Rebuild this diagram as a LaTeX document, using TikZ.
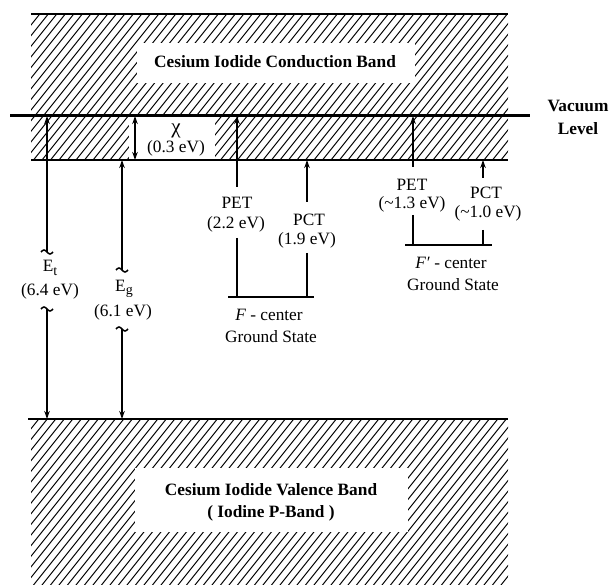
\documentclass[tikz,border=0pt]{standalone}
\usepackage{fontspec}
\setmainfont{Liberation Serif}
\usetikzlibrary{arrows.meta}
\newcommand{\bigsub}[1]{\raisebox{-3.5pt}{\fontsize{14}{14}\selectfont #1}}
\begin{document}
\begin{tikzpicture}[x=1pt,y=-1pt,
  lbl/.style={font=\fontsize{17.3}{19}\selectfont, inner sep=0pt},
  blbl/.style={font=\fontsize{17.3}{19}\selectfont\bfseries, inner sep=0pt},
  arr/.style={line width=1.2pt, -{Stealth[length=8pt,width=5.5pt]}},
  darr/.style={line width=1.2pt, {Stealth[length=8pt,width=5.5pt]}-{Stealth[length=8pt,width=5.5pt]}},
  plainline/.style={line width=1.2pt},
  levelline/.style={line width=2.6pt},
  hatchline/.style={line width=1pt},
  tilde/.pic={\draw[line width=1.5pt] (-6,0) sin (-3,-2) cos (0,0) sin (3,2) cos (6,0);}]
\useasboundingbox (0,0) rectangle (611,585);
% hatching of the two bands
\begin{scope}
  \clip (31,14) rectangle (508,160) (31,419) rectangle (508,585);
  \foreach \x in {-480,-471.5,...,520} \draw[hatchline] (\x,600) -- ++(480,-600);
\end{scope}
% white label boxes
\fill[white] (137,43) rectangle (415,83);
\fill[white] (129,117) rectangle (215,159);
\fill[white] (135,468) rectangle (408,532);
% band edges and levels
\coordinate (ctl) at (31,14);  \coordinate (ctr) at (508,14);
\coordinate (vl) at (10,116);  \coordinate (vr) at (530,116);
\coordinate (cbl) at (31,160); \coordinate (cbr) at (508,160);
\coordinate (vbl) at (28,419); \coordinate (vbr) at (508,419);
\draw[line width=1.3pt] (ctl) -- (ctr);
\draw[line width=3pt] (vl) -- (vr);
\draw[line width=2pt] (cbl) -- (cbr);
\draw[line width=2pt] (vbl) -- (vbr);
% band labels
\node[blbl] (cb) at (275,62) {Cesium Iodide Conduction Band};
\node[blbl] (vb1) at (271,490) {Cesium Iodide Valence Band};
\node[blbl] (vb2) at (271,513) {( Iodine P-Band )};
\node[blbl] (vac1) at (578,106) {Vacuum};
\node[blbl] (vac2) at (578,129) {Level};
% E_t
\coordinate (et-top) at (47,116); \coordinate (et-a) at (47,252);
\coordinate (et-b) at (47,309);   \coordinate (et-bot) at (47,419);
\draw[arr] (et-a) -- (et-top);
\draw[arr] (et-b) -- (et-bot);
\pic at (et-a) {tilde};
\pic at (et-b) {tilde};
\node[lbl] (et) at (50,268) {E\bigsub{t}};
\node[lbl] (etv) at (50,291) {(6.4 eV)};
% E_g
\coordinate (eg-top) at (122,160); \coordinate (eg-a) at (122,270);
\coordinate (eg-b) at (122,329);   \coordinate (eg-bot) at (122,419);
\draw[arr] (eg-a) -- (eg-top);
\draw[arr] (eg-b) -- (eg-bot);
\pic at (eg-a) {tilde};
\pic at (eg-b) {tilde};
\node[lbl] (eg) at (124,289) {E\bigsub{g}};
\node[lbl] (egv) at (123,312) {(6.1 eV)};
% chi
\coordinate (chi-top) at (135,116); \coordinate (chi-bot) at (135,160);
\draw[darr] (chi-top) -- (chi-bot);
\node[lbl, font=\fontsize{21}{21}\selectfont] (chi) at (176,131) {χ};
\node[lbl] (chiv) at (176,148) {(0.3 eV)};
% F-center
\coordinate (fl) at (228,297); \coordinate (fr) at (314,297);
\draw[levelline] (fl) -- (fr);
\coordinate (pet1-s) at (237,187); \coordinate (pet1-e) at (237,116);
\draw[arr] (pet1-s) -- (pet1-e);
\node[lbl] (pet1) at (237,203) {PET};
\node[lbl] (pet1v) at (236,224) {(2.2 eV)};
\coordinate (pet1-l) at (237,238); \coordinate (pet1-f) at (237,297);
\draw[plainline] (pet1-l) -- (pet1-f);
\coordinate (pct1-s) at (307,202); \coordinate (pct1-e) at (307,160);
\draw[arr] (pct1-s) -- (pct1-e);
\node[lbl] (pct1) at (309,220) {PCT};
\node[lbl] (pct1v) at (307,240) {(1.9 eV)};
\coordinate (pct1-l) at (307,253); \coordinate (pct1-f) at (307,297);
\draw[plainline] (pct1-l) -- (pct1-f);
\node[lbl] (fc1) at (269,315) {\textit{F} - center};
\node[lbl] (fc2) at (271,337) {Ground State};
% F'-center
\coordinate (gl) at (405,245); \coordinate (gr) at (492,245);
\draw[levelline] (gl) -- (gr);
\coordinate (pet2-s) at (413,167); \coordinate (pet2-e) at (413,116);
\draw[arr] (pet2-s) -- (pet2-e);
\node[lbl] (pet2) at (412,185) {PET};
\node[lbl] (pet2v) at (412,204) {(\textasciitilde1.3 eV)};
\coordinate (pet2-l) at (413,215); \coordinate (pet2-f) at (413,245);
\draw[plainline] (pet2-l) -- (pet2-f);
\coordinate (pct2-s) at (483,178); \coordinate (pct2-e) at (483,160);
\draw[arr] (pct2-s) -- (pct2-e);
\node[lbl] (pct2) at (486,193) {PCT};
\node[lbl] (pct2v) at (488,213) {(\textasciitilde1.0 eV)};
\coordinate (pct2-l) at (483,230); \coordinate (pct2-f) at (483,245);
\draw[plainline] (pct2-l) -- (pct2-f);
\node[lbl] (gc1) at (451,263) {\textit{F′} - center};
\node[lbl] (gc2) at (453,285) {Ground State};
\end{tikzpicture}
\end{document}
